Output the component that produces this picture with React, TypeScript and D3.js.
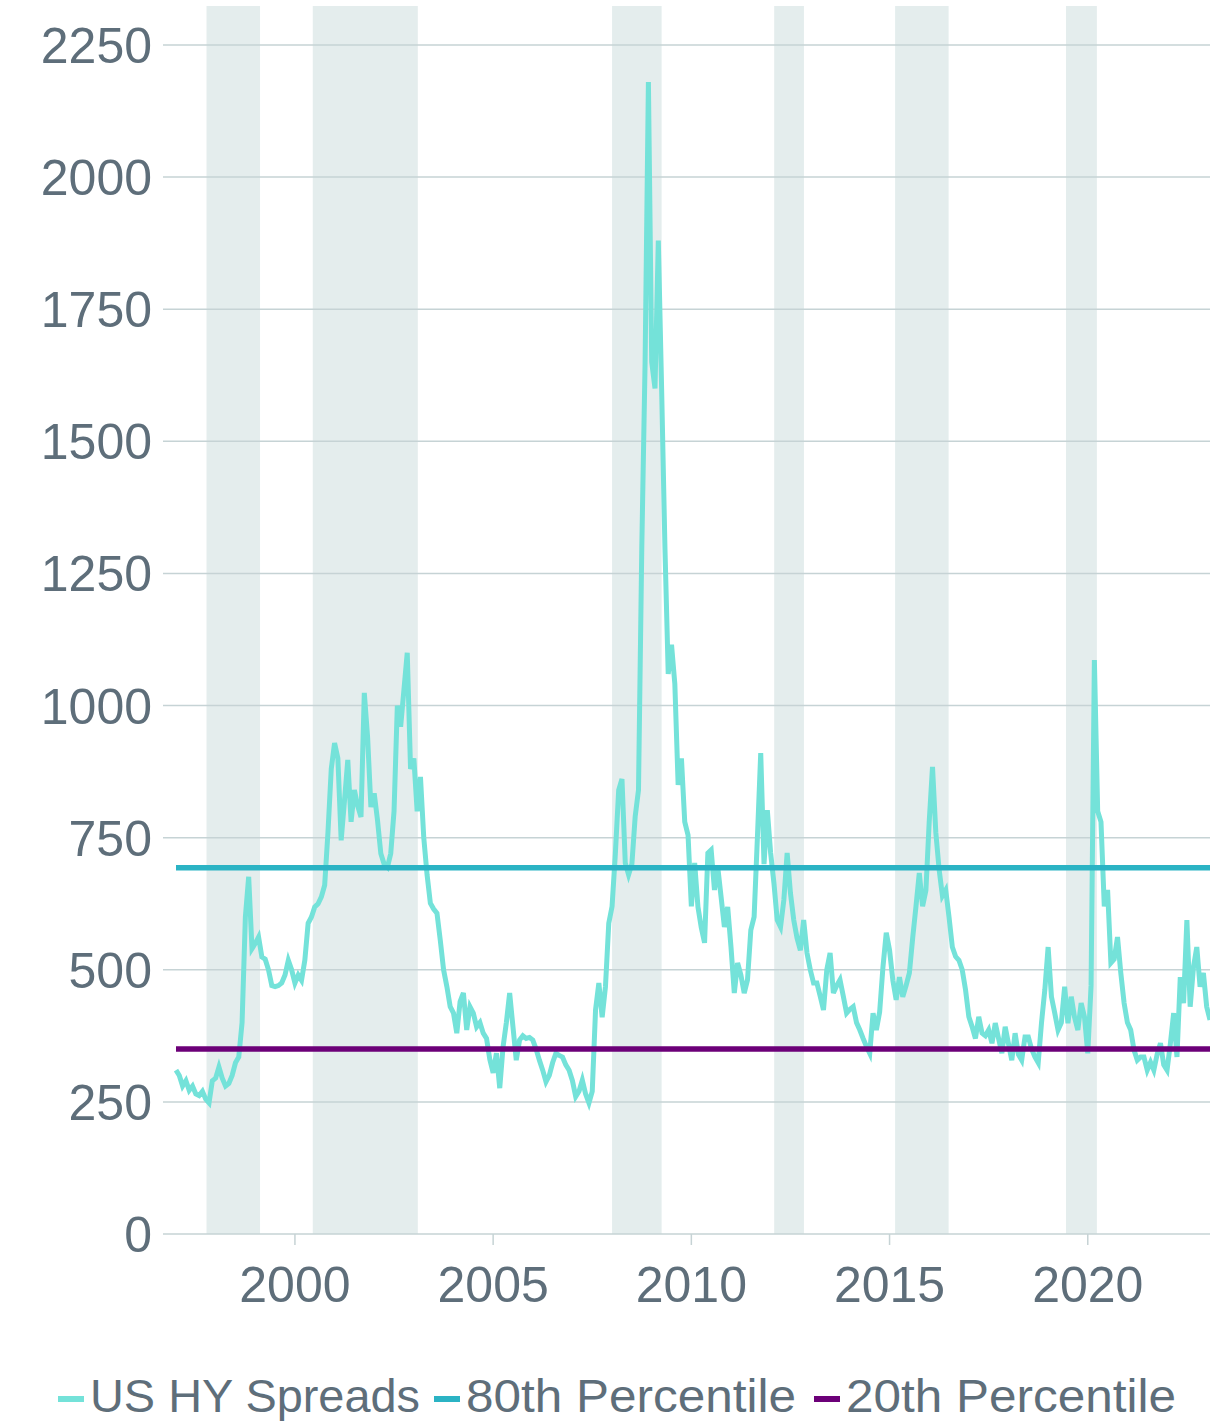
import * as d3 from "d3";

// Monthly US HY spreads (bp), Jan 1997 .. Feb 2023
const seriesStart = 1997;
const spreads = [
  310, 300, 280, 290, 272, 280, 265, 262, 270, 255, 248, 290, // 1997
  295, 316, 295, 280, 285, 300, 324, 335, 400, 600, 676, 540, // 1998
  550, 562, 524, 520, 500, 470, 468, 470, 475, 490, 518, 500, // 1999
  475, 490, 480, 518, 588, 600, 619, 625, 638, 660, 760, 880, // 2000
  929, 900, 745, 820, 897, 780, 840, 810, 789, 1024, 940, 808, // 2001
  834, 783, 720, 700, 694, 720, 800, 1000, 960, 1030, 1100, 880, // 2002
  900, 800, 865, 750, 680, 626, 615, 607, 556, 500, 468, 430, // 2003
  418, 380, 440, 456, 386, 430, 418, 392, 400, 380, 370, 330, // 2004
  305, 342, 276, 354, 400, 456, 392, 329, 367, 375, 370, 372, // 2005
  367, 350, 329, 310, 288, 300, 324, 342, 338, 335, 320, 310, // 2006
  290, 260, 270, 291, 265, 248, 270, 424, 475, 410, 468, 588, // 2007
  620, 720, 840, 861, 702, 680, 700, 790, 840, 1300, 1650, 2180, // 2008
  1650, 1600, 1880, 1600, 1300, 1060, 1115, 1041, 850, 900, 780, 755, // 2009
  620, 702, 619, 580, 551, 721, 727, 651, 694, 638, 581, 619, // 2010
  543, 456, 513, 490, 456, 481, 575, 600, 751, 910, 700, 802, // 2011
  721, 664, 594, 581, 632, 721, 645, 594, 560, 537, 594, 532, // 2012
  500, 475, 475, 450, 424, 500, 532, 456, 470, 481, 450, 418, // 2013
  425, 430, 400, 386, 370, 355, 342, 418, 386, 420, 505, 570, // 2014
  537, 480, 443, 486, 449, 470, 494, 560, 620, 683, 620, 650, // 2015
  780, 884, 760, 690, 640, 651, 600, 543, 525, 518, 500, 462, // 2016
  411, 392, 370, 411, 380, 375, 386, 361, 399, 370, 342, 392, // 2017
  360, 329, 380, 340, 329, 373, 373, 350, 335, 324, 400, 462, // 2018
  543, 449, 418, 386, 400, 468, 399, 449, 410, 386, 437, 411, // 2019
  342, 470, 1086, 800, 780, 620, 651, 513, 520, 562, 494, 437, // 2020
  400, 386, 348, 329, 335, 335, 310, 325, 310, 340, 361, 320, // 2021
  310, 360, 418, 335, 486, 437, 594, 430, 505, 543, 468, 494, // 2022
  430, 405, // 2023
];

const pct80 = 693;
const pct20 = 350;

// shaded periods, decimal years
const shadedStart = [1997.77, 2000.45, 2008.0, 2012.09, 2015.14, 2019.45];
const shadedEnd = [1999.12, 2003.1, 2009.25, 2012.84, 2016.49, 2020.23];

const yTicks = [0, 250, 500, 750, 1000, 1250, 1500, 1750, 2000, 2250];
const xTicks = [2000, 2005, 2010, 2015, 2020];
const legendLabels = ["US HY Spreads", "80th Percentile", "20th Percentile"];

const W = 1210;
const H = 1421;
const FONT = "'Liberation Sans', Arial, Helvetica, sans-serif";
const TEXT = "#5e6e7a";
const GRID = "#c6d3d5";
const BAND = "#e4eded";
const LINE = "#74e2d9";
const P80 = "#2bb3c4";
const P20 = "#6c0078";
const legendColors = [LINE, P80, P20];

export default function App() {
  const x = d3
    .scaleLinear()
    .domain([seriesStart, seriesStart + (spreads.length - 1) / 12])
    .range([176, 1210]);
  const y = d3.scaleLinear().domain([0, 2250]).range([1234, 45]);
  const plotLeft = 163;
  const plotTop = 6;

  const pts = spreads.map((v, i) => [seriesStart + i / 12, v] as [number, number]);
  const line = d3
    .line<[number, number]>()
    .x((d) => x(d[0]))
    .y((d) => y(d[1]));

  const legendX = [58, 434, 814];

  return (
    <svg
      width={W}
      height={H}
      style={{ position: "absolute", left: 0, top: 0, background: "#fff" }}
      fontFamily={FONT}
    >
      {/* shaded bands */}
      {shadedStart.map((s, i) => (
        <rect
          key={"b" + i}
          x={x(s)}
          y={plotTop}
          width={x(shadedEnd[i]) - x(s)}
          height={y(0) - plotTop}
          fill={BAND}
        />
      ))}

      {/* grid + y labels */}
      {yTicks.map((t) => (
        <g key={"y" + t}>
          <line x1={plotLeft} x2={W} y1={y(t)} y2={y(t)} stroke={GRID} strokeWidth={1.5} />
          <text
            x={152}
            y={y(t)}
            dy="0.36em"
            textAnchor="end"
            fontSize={50}
            fill={TEXT}
          >
            {t}
          </text>
        </g>
      ))}

      {/* x ticks */}
      {xTicks.map((t) => (
        <g key={"x" + t}>
          <line x1={x(t)} x2={x(t)} y1={y(0)} y2={y(0) + 11} stroke={GRID} strokeWidth={1.5} />
          <text x={x(t)} y={1302} textAnchor="middle" fontSize={50} fill={TEXT}>
            {t}
          </text>
        </g>
      ))}

      {/* series */}
      <path d={line(pts) || ""} fill="none" stroke={LINE} strokeWidth={5} />

      {/* percentile lines */}
      <line x1={x(seriesStart)} x2={W} y1={y(pct80)} y2={y(pct80)} stroke={P80} strokeWidth={5.5} />
      <line x1={x(seriesStart)} x2={W} y1={y(pct20)} y2={y(pct20)} stroke={P20} strokeWidth={5.5} />

      {/* legend */}
      {legendLabels.map((l, i) => (
        <g key={"l" + i}>
          <rect x={legendX[i]} y={1396} width={26} height={6} fill={legendColors[i]} />
          <text
            x={legendX[i] + 32}
            y={1412}
            fontSize={46}
            fill={TEXT}
            textLength={330}
            lengthAdjust="spacingAndGlyphs"
          >
            {l}
          </text>
        </g>
      ))}
    </svg>
  );
}
